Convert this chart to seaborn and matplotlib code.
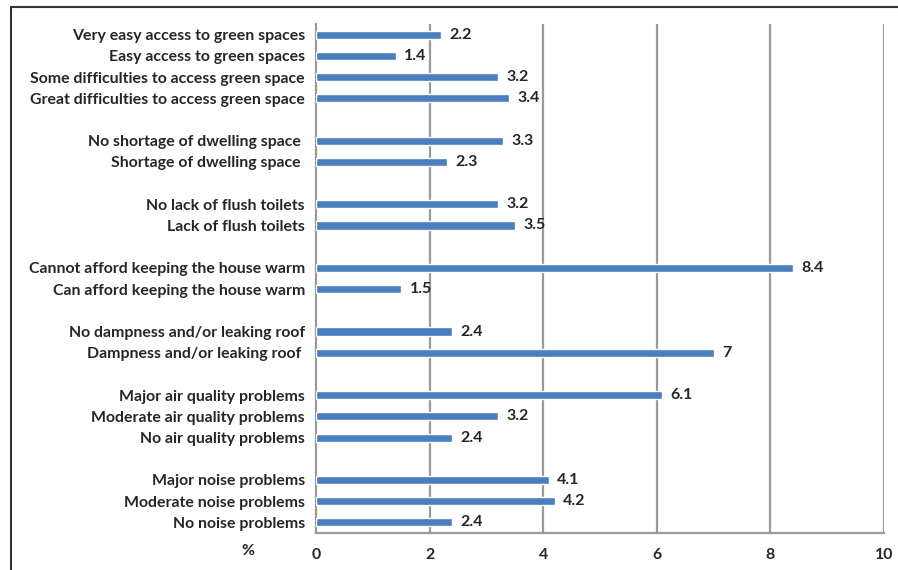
import matplotlib
matplotlib.use("Agg")
import matplotlib.pyplot as plt
import seaborn as sns
import pandas as pd
from matplotlib.lines import Line2D
from matplotlib.ticker import FixedLocator

labels = [
    "Very easy access to green spaces", "Easy access to green spaces",
    "Some difficulties to access green space", "Great difficulties to access green space",
    "No shortage of dwelling space ", "Shortage of dwelling space ",
    "No lack of flush toilets", "Lack of flush toilets",
    "Cannot afford keeping the house warm", "Can afford keeping the house warm",
    "No dampness and/or leaking roof", "Dampness and/or leaking roof ",
    "Major air quality problems", "Moderate air quality problems", "No air quality problems",
    "Major noise problems", "Moderate noise problems", "No noise problems",
]
values = [2.2, 1.4, 3.2, 3.4, 3.3, 2.3, 3.2, 3.5, 8.4, 1.5, 2.4, 7, 6.1, 3.2, 2.4, 4.1, 4.2, 2.4]
value_text = ["2.2", "1.4", "3.2", "3.4", "3.3", "2.3", "3.2", "3.5", "8.4", "1.5", "2.4", "7",
              "6.1", "3.2", "2.4", "4.1", "4.2", "2.4"]
group_sizes = [4, 2, 2, 2, 2, 3, 3]
x_ticks = [0, 2, 4, 6, 8, 10]

# order with blank spacer rows between groups
order = []
i = 0
for g, n in enumerate(group_sizes):
    order += labels[i:i + n]
    i += n
    if g < len(group_sizes) - 1:
        order.append(" " * (g + 1) + "\u200b")
df = pd.DataFrame({"label": labels, "value": values, "txt": value_text})

sns.set_style("white")
plt.rcParams["font.family"] = ["Lato", "DejaVu Sans"]

fig = plt.figure(figsize=(8.98, 5.70), dpi=100)
ax = fig.add_axes([316 / 898, 37 / 570, 568 / 898, 509 / 570])

sns.barplot(data=df, y="label", x="value", order=order, orient="h",
            color="#4A7EBF", saturation=1, width=0.38, ax=ax, zorder=3)

ax.set_xlim(0, 10)
ax.set_ylim(len(order) - 0.5, -0.5)
ax.xaxis.set_major_locator(FixedLocator(x_ticks))
ax.set_xticklabels([str(t) for t in x_ticks])
for t in x_ticks[1:]:
    ax.axvline(t, color="#9a9a9a", lw=1.6, zorder=1)

ax.set_xlabel("")
ax.set_ylabel("")
for s in ["top", "right"]:
    ax.spines[s].set_visible(False)
for s in ["left", "bottom"]:
    ax.spines[s].set_color("#9a9a9a")
    ax.spines[s].set_linewidth(1.6)

# ticks: y ticks at row boundaries, labels at centers
ax.yaxis.set_minor_locator(FixedLocator([k - 0.5 for k in range(len(order) + 1)]))
ax.tick_params(axis="y", which="major", length=0, pad=8, labelsize=11.4, labelcolor="#262626")
ax.tick_params(axis="y", which="minor", length=5, width=1.2, color="#9a9a9a", direction="out")
ax.tick_params(axis="x", which="major", length=6, width=1.4, color="#9a9a9a", direction="out",
               labelsize=11.4, labelcolor="#262626", pad=5)
for lab in ax.get_yticklabels():
    lab.set_fontweight("bold")
for lab in ax.get_xticklabels():
    lab.set_fontweight("bold")

for r in df.itertuples():
    y = order.index(r.label)
    ax.annotate(r.txt, (r.value, y), xytext=(6, 0), textcoords="offset points",
                ha="left", va="center", fontsize=11.5, fontweight="bold", color="#262626")

fig.text(248 / 898, 1 - 551 / 570, "%", ha="center", va="center", fontsize=11.4,
         fontweight="bold", color="#262626")

# outer frame
fig.add_artist(Line2D([11 / 898, 1.0], [1 - 7 / 570, 1 - 7 / 570], transform=fig.transFigure,
                      color="#333333", lw=1.5))
fig.add_artist(Line2D([11 / 898, 11 / 898], [0, 1 - 7 / 570], transform=fig.transFigure,
                      color="#333333", lw=1.5))

fig.savefig("out.png", dpi=100, facecolor="white")
